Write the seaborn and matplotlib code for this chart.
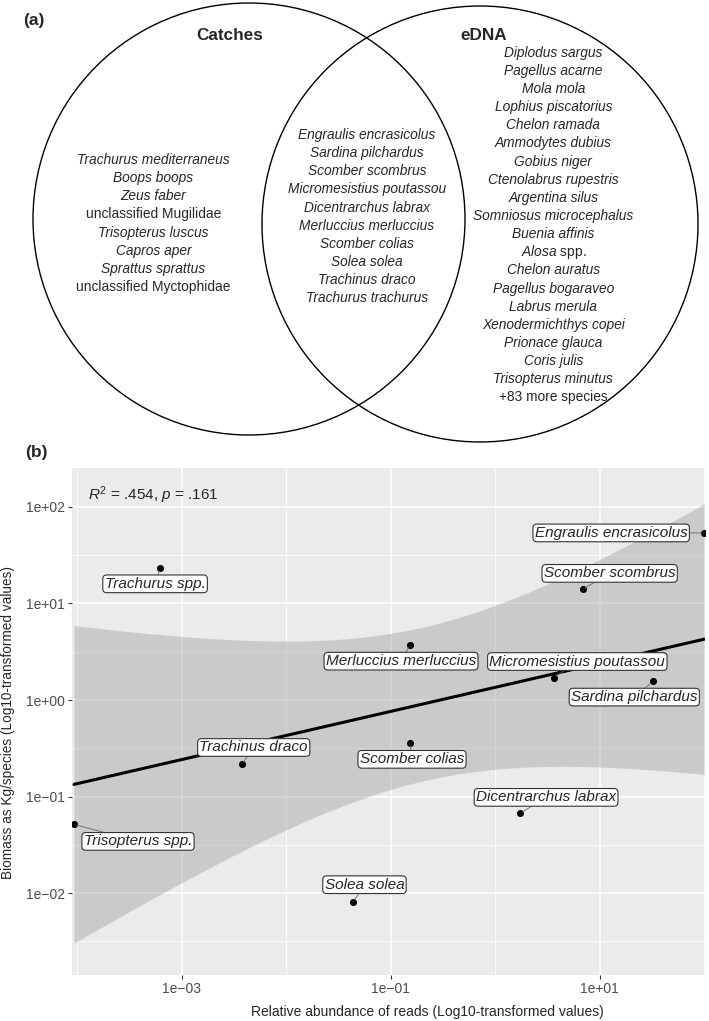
import numpy as np
import pandas as pd
import matplotlib
matplotlib.use('Agg')
import matplotlib.pyplot as plt
from matplotlib.patches import Circle
import seaborn as sns

# ---- panel (a): species lists ----
catches_only = ['Trachurus mediterraneus', 'Boops boops', 'Zeus faber',
                'unclassified Mugilidae', 'Trisopterus luscus', 'Capros aper',
                'Sprattus sprattus', 'unclassified Myctophidae']
shared = ['Engraulis encrasicolus', 'Sardina pilchardus', 'Scomber scombrus',
          'Micromesistius poutassou', 'Dicentrarchus labrax', 'Merluccius merluccius',
          'Scomber colias', 'Solea solea', 'Trachinus draco', 'Trachurus trachurus']
edna_only = ['Diplodus sargus', 'Pagellus acarne', 'Mola mola', 'Lophius piscatorius',
             'Chelon ramada', 'Ammodytes dubius', 'Gobius niger', 'Ctenolabrus rupestris',
             'Argentina silus', 'Somniosus microcephalus', 'Buenia affinis', 'Alosa spp.',
             'Chelon auratus', 'Pagellus bogaraveo', 'Labrus merula', 'Xenodermichthys copei',
             'Prionace glauca', 'Coris julis', 'Trisopterus minutus', '+83 more species']
upright = {'unclassified Mugilidae', 'unclassified Myctophidae', '+83 more species'}

# ---- panel (b): biomass vs reads ----
species = ['Trisopterus spp.', 'Trachurus spp.', 'Trachinus draco', 'Merluccius merluccius',
           'Scomber colias', 'Solea solea', 'Micromesistius poutassou', 'Sardina pilchardus',
           'Scomber scombrus', 'Engraulis encrasicolus', 'Dicentrarchus labrax']
rel_reads = [9.3e-5, 6.2e-4, 3.75e-3, 0.153, 0.153, 0.044, 3.68, 32.6, 6.87, 100.0, 1.73]
biomass = [0.0515, 23.4, 0.215, 3.70, 0.356, 0.00815, 1.71, 1.57, 14.0, 53.8, 0.067]

# label offsets from their point (pixels, right / down)
label_offsets = [(64, 17), (-5, 16), (12, -17), (-9, 16), (2, 16), (11, -17),
                 (23, -16), (-19, 16), (27, -16), (-93, 0), (26, -16)]

sns.set_style('darkgrid', {'axes.facecolor': '#EBEBEB', 'grid.color': 'white'})
plt.rcParams['font.family'] = ['Liberation Sans', 'DejaVu Sans']
plt.rcParams['mathtext.fontset'] = 'custom'
plt.rcParams['mathtext.rm'] = 'Liberation Sans'
plt.rcParams['mathtext.it'] = 'Liberation Sans:italic'
plt.rcParams['mathtext.bf'] = 'Liberation Sans:bold'

W, H = 709, 1021
fig = plt.figure(figsize=(W / 100, H / 100), dpi=100)
fig.patch.set_facecolor('white')

# Venn diagram in pixel coordinates
ax_a = fig.add_axes([0, 1 - 445 / H, 1, 445 / H])
ax_a.set_xlim(0, W)
ax_a.set_ylim(445, 0)
ax_a.axis('off')
ax_a.add_patch(Circle((249, 219), 216, fill=False, lw=1.0, ec='black'))
ax_a.add_patch(Circle((480, 224), 218, fill=False, lw=1.0, ec='black'))
ax_a.text(23, 20, '(a)', fontsize=12.5, fontweight='bold', ha='left', va='center')
ax_a.text(229.5, 35, 'Catches', fontsize=12.3, fontweight='bold', ha='center', va='center')
ax_a.text(484, 35, 'eDNA', fontsize=12.3, fontweight='bold', ha='center', va='center')

LIST_FS = 9.9


def draw_list(names, cx, y0, step=18.14):
    for i, name in enumerate(names):
        y = y0 + i * step
        if name in upright:
            ax_a.text(cx, y, name, fontsize=LIST_FS, ha='center', va='center')
        elif name.endswith(' spp.'):
            genus = name.replace(' spp.', '')
            ax_a.text(cx, y, r'$\mathit{' + genus + '}$ spp.', fontsize=LIST_FS,
                      ha='center', va='center')
        else:
            ax_a.text(cx, y, name, fontsize=LIST_FS, ha='center', va='center',
                      fontstyle='italic')


draw_list(catches_only, 153.5, 160)
draw_list(shared, 367, 135)
draw_list(edna_only, 553.3, 52.7)

# scatter + regression in log10 space
df = pd.DataFrame({'species': species,
                   'lx': np.log10(rel_reads),
                   'ly': np.log10(biomass)})

left, right = 71.7 / W, 705 / W
bottom, top = 1 - 975 / H, 1 - 468.3 / H
ax = fig.add_axes([left, bottom, right - left, top - bottom])
fig.text(25 / W, 1 - 453 / H, '(b)', fontsize=12.5, fontweight='bold', ha='left', va='center')

n = len(df)
b, a = np.polyfit(df['lx'], df['ly'], 1)
xm = df['lx'].mean()
sxx = ((df['lx'] - xm) ** 2).sum()
s = np.sqrt(((df['ly'] - (a + b * df['lx'])) ** 2).sum() / (n - 2))
try:
    from scipy import stats
    tq = stats.t.ppf(0.975, n - 2)
except Exception:
    tq = 2.262
xg = np.linspace(df['lx'].min(), df['lx'].max(), 200)
yg = a + b * xg
se = s * np.sqrt(1 / n + (xg - xm) ** 2 / sxx)
ax.fill_between(xg, yg - tq * se, yg + tq * se, color='#999999', alpha=0.4, lw=0, zorder=1.5)

sns.regplot(data=df, x='lx', y='ly', ci=None, truncate=True, ax=ax,
            scatter_kws=dict(s=26, color='black', alpha=1, zorder=3, linewidths=0),
            line_kws=dict(color='black', lw=2.2, zorder=2.5))

for (name, lx, ly), (dx, dy) in zip(df[['species', 'lx', 'ly']].values, label_offsets):
    ax.annotate(name, xy=(lx, ly), xytext=(dx, -dy), textcoords='offset pixels',
                ha='center', va='center', fontsize=11, fontstyle='italic', zorder=4,
                bbox=dict(boxstyle='round,pad=0.12,rounding_size=0.25', fc='white',
                          ec='#333333', lw=0.8),
                arrowprops=dict(arrowstyle='-', color='#666666', lw=0.6,
                                shrinkA=0, shrinkB=2))

ax.text(0.026, 0.947, r'$R^2$ = .454, $p$ = .161', transform=ax.transAxes,
        fontsize=11, ha='left', va='center')

xmin, xmax = df['lx'].min() - 0.022, df['lx'].max() + 0.008
ax.set_xlim(xmin, xmax)
ax.set_ylim(-2.848, 2.40)
ax.set_xticks([-3, -1, 1])
ax.set_xticklabels(['1e\u221203', '1e\u221201', '1e+01'])
ax.set_xticks([-4, -2, 0, 2], minor=True)
ax.set_yticks([-2, -1, 0, 1, 2])
ax.set_yticklabels(['1e\u221202', '1e\u221201', '1e+00', '1e+01', '1e+02'])
ax.set_yticks([-2.5, -1.5, -0.5, 0.5, 1.5], minor=True)
ax.grid(which='major', color='white', lw=1.1)
ax.grid(which='minor', color='white', lw=0.55)
ax.set_axisbelow(True)
for sp in ax.spines.values():
    sp.set_visible(False)
ax.tick_params(which='major', length=3, width=0.8, color='#333333',
               labelcolor='#4D4D4D', labelsize=10, pad=2, bottom=True, left=True)
ax.tick_params(which='minor', length=0)
ax.set_xlabel('')
ax.set_ylabel('')
fig.text(427.5 / W, 1 - 1011.7 / H, 'Relative abundance of reads (Log10-transformed values)',
         fontsize=10, ha='center', va='center')
fig.text(8.5 / W, 1 - 722 / H, 'Biomass as Kg/species (Log10-transformed values)',
         fontsize=9.8, ha='center', va='center', rotation=90)

fig.savefig('out.png', dpi=100)
